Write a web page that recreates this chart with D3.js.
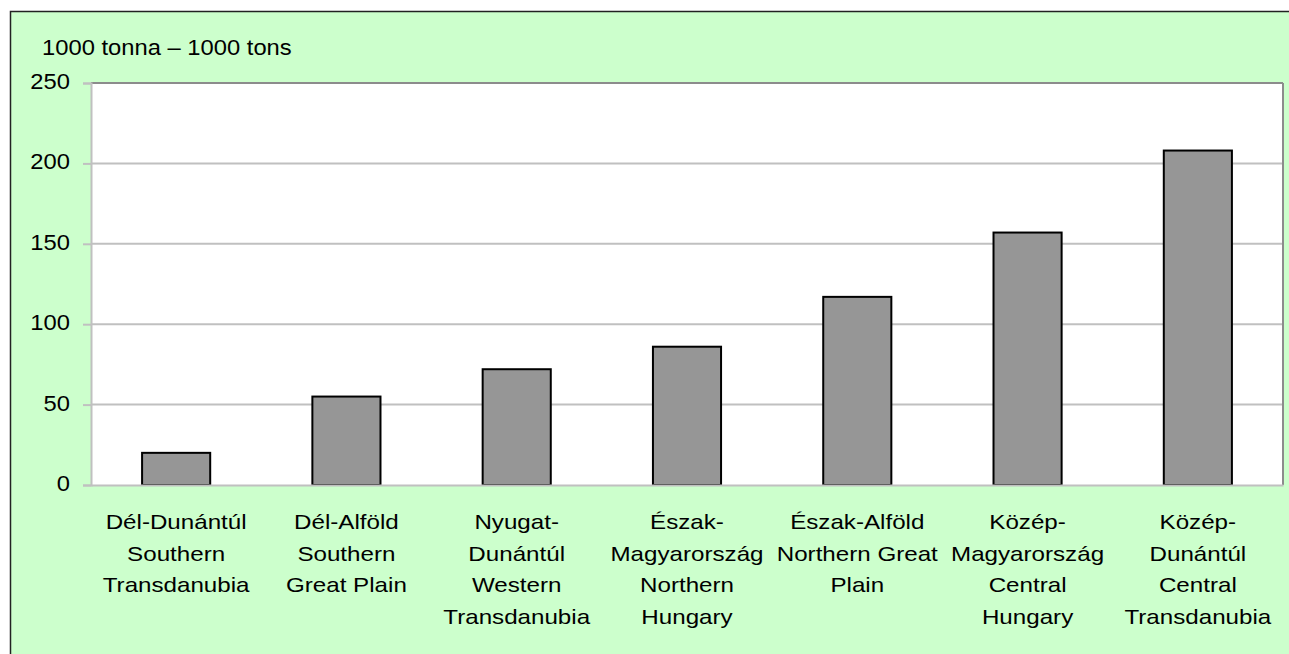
<!DOCTYPE html>
<html>
<head>
<meta charset="utf-8">
<script src="https://cdn.jsdelivr.net/npm/d3@7"></script>
<style>
  html, body { margin: 0; padding: 0; background: #ffffff; }
  svg { display: block; }
  text { font-family: "Liberation Sans", Arial, sans-serif; fill: #000; }
</style>
</head>
<body>
<script>
// Regional output, thousand tonnes
const regionsHu = ["Dél-Dunántúl", "Dél-Alföld", "Nyugat-|Dunántúl", "Észak-|Magyarország", "Észak-Alföld", "Közép-|Magyarország", "Közép-|Dunántúl"];
const regionsEn = ["Southern|Transdanubia", "Southern|Great Plain", "Western|Transdanubia", "Northern|Hungary", "Northern Great|Plain", "Central|Hungary", "Central|Transdanubia"];
const values = [20, 55, 72, 86, 117, 157, 208];
const yTicks = [0, 50, 100, 150, 200, 250];
const unitLabel = "1000 tonna – 1000 tons";

const W = 1289, H = 654;
const plot = { left: 91, right: 1283, top: 83, bottom: 485 };

const svg = d3.select("body").append("svg").attr("width", W).attr("height", H);

// horizontally widen a text run by factor k
function widen(sel, k) {
  sel.each(function () {
    const len = this.getComputedTextLength();
    if (len > 0) {
      d3.select(this).attr("textLength", len * k).attr("lengthAdjust", "spacingAndGlyphs");
    }
  });
}

// chart area background and frame
svg.append("rect")
  .attr("x", 10.5).attr("y", 11.5)
  .attr("width", W + 20).attr("height", H + 20)
  .attr("fill", "#ccffcc")
  .attr("stroke", "#222").attr("stroke-width", 1.5);

// plot area
svg.append("rect")
  .attr("x", plot.left).attr("y", plot.top)
  .attr("width", plot.right - plot.left).attr("height", plot.bottom - plot.top)
  .attr("fill", "#ffffff");

const x = d3.scaleBand()
  .domain(d3.range(values.length))
  .range([plot.left, plot.right])
  .paddingInner(0.6)
  .paddingOuter(0.3);

const y = d3.scaleLinear().domain([0, 250]).range([plot.bottom, plot.top]);

// gridlines
svg.append("g")
  .selectAll("line")
  .data(yTicks.filter(t => t > 0))
  .join("line")
  .attr("x1", plot.left).attr("x2", plot.right)
  .attr("y1", d => y(d)).attr("y2", d => y(d))
  .attr("stroke", d => d === 250 ? "#8c8c8c" : "#c0c0c0")
  .attr("stroke-width", 2);

// right edge of plot area
svg.append("line")
  .attr("x1", plot.right).attr("x2", plot.right)
  .attr("y1", plot.top).attr("y2", plot.bottom)
  .attr("stroke", "#8c8c8c").attr("stroke-width", 2);

// bars
svg.append("g")
  .selectAll("rect")
  .data(values)
  .join("rect")
  .attr("x", (d, i) => x(i))
  .attr("width", x.bandwidth())
  .attr("y", d => y(d))
  .attr("height", d => y(0) - y(d))
  .attr("fill", "#969696")
  .attr("stroke", "#000")
  .attr("stroke-width", 2);

// y axis
const yAxis = svg.append("g")
  .attr("transform", `translate(${plot.left},0)`)
  .call(d3.axisLeft(y).tickValues(yTicks).tickSize(8).tickPadding(13).tickFormat(d3.format("d")));
yAxis.select(".domain").attr("stroke", "#c0c0c0").attr("stroke-width", 2);
yAxis.selectAll(".tick line").attr("stroke", "#c0c0c0").attr("stroke-width", 2);
yAxis.selectAll(".tick text")
  .attr("font-size", 22)
  .attr("dy", "0.25em")
  .attr("font-family", "Liberation Sans, Arial, sans-serif")
  .attr("fill", "#000");
widen(yAxis.selectAll(".tick text"), 1.08);

// x axis baseline
const xAxis = svg.append("g")
  .attr("transform", `translate(0,${plot.bottom})`)
  .call(d3.axisBottom(x).tickSize(0).tickFormat(""));
xAxis.select(".domain").attr("stroke", "#c0c0c0").attr("stroke-width", 2);

// category labels, Hungarian name above English name
const lineGap = 31.5;
const labelG = svg.append("g");
values.forEach((v, i) => {
  const lines = regionsHu[i].split("|").concat(regionsEn[i].split("|"));
  const cx = x(i) + x.bandwidth() / 2;
  lines.forEach((ln, j) => {
    labelG.append("text")
      .attr("x", cx)
      .attr("y", 529 + j * lineGap)
      .attr("text-anchor", "middle")
      .attr("font-size", 21)
      .text(ln);
  });
});
widen(labelG.selectAll("text"), 1.15);

// unit label
const unit = svg.append("text")
  .attr("x", 42).attr("y", 55)
  .attr("font-size", 22)
  .text(unitLabel);
widen(unit, 1.08);
</script>
</body>
</html>
